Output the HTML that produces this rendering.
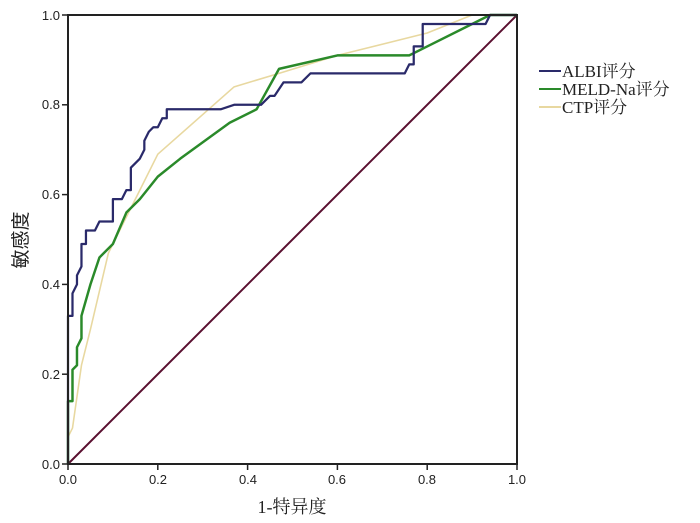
<!DOCTYPE html>
<html><head><meta charset="utf-8"><style>
html,body{margin:0;padding:0;background:#fff;width:700px;height:523px;overflow:hidden}
text{font-family:"Liberation Sans","Noto Sans CJK SC",sans-serif;fill:#222}
text.s{font-family:"Liberation Serif","Noto Serif CJK SC",serif}
</style></head><body>
<svg width="700" height="523" xmlns="http://www.w3.org/2000/svg">
<g transform="translate(68,464) scale(449,-449)" fill="none" stroke-linejoin="round">
<polyline stroke="#5a1030" stroke-width="0.0045" points="0,0 1,1"/>
<polyline stroke="#e8d8a0" stroke-width="0.0035" points="0,0 0,0.06 0.01,0.08 0.03,0.22 0.05,0.3 0.09,0.47 0.15,0.59 0.2,0.69 0.37,0.84 0.47,0.87 0.6,0.91 0.8,0.96 0.9,1 1,1"/>
<polyline stroke="#2a8a2a" stroke-width="0.0055" points="0,0 0,0.14 0.01,0.14 0.01,0.21 0.02,0.22 0.02,0.26 0.03,0.28 0.03,0.33 0.05,0.40 0.07,0.46 0.1,0.49 0.13,0.56 0.16,0.59 0.2,0.64 0.25,0.68 0.36,0.76 0.42,0.79 0.47,0.88 0.6,0.91 0.76,0.91 0.8,0.93 0.9,0.98 0.94,1 1,1"/>
<polyline stroke="#2a2a6a" stroke-width="0.005" points="0,0 0,0.33 0.01,0.33 0.01,0.38 0.02,0.40 0.02,0.42 0.03,0.44 0.03,0.49 0.04,0.49 0.04,0.52 0.06,0.52 0.07,0.54 0.1,0.54 0.1,0.59 0.12,0.59 0.13,0.61 0.14,0.61 0.14,0.66 0.16,0.68 0.17,0.70 0.17,0.72 0.18,0.74 0.19,0.75 0.2,0.75 0.21,0.77 0.22,0.77 0.22,0.79 0.34,0.79 0.37,0.80 0.43,0.80 0.45,0.82 0.46,0.82 0.48,0.85 0.52,0.85 0.54,0.87 0.75,0.87 0.76,0.89 0.77,0.89 0.77,0.93 0.79,0.93 0.79,0.98 0.93,0.98 0.94,1 1,1"/>
</g>
<rect x="68" y="15" width="449" height="449" fill="none" stroke="#222" stroke-width="2"/>
<g stroke="#222" stroke-width="1.5">
<line x1="62" y1="15" x2="68" y2="15"/><line x1="62" y1="104.8" x2="68" y2="104.8"/><line x1="62" y1="194.6" x2="68" y2="194.6"/><line x1="62" y1="284.4" x2="68" y2="284.4"/><line x1="62" y1="374.2" x2="68" y2="374.2"/><line x1="62" y1="464" x2="68" y2="464"/>
<line x1="68" y1="464" x2="68" y2="470"/><line x1="157.8" y1="464" x2="157.8" y2="470"/><line x1="247.6" y1="464" x2="247.6" y2="470"/><line x1="337.4" y1="464" x2="337.4" y2="470"/><line x1="427.2" y1="464" x2="427.2" y2="470"/><line x1="517" y1="464" x2="517" y2="470"/>
</g>
<g font-size="13" text-anchor="end">
<text x="60" y="20">1.0</text><text x="60" y="109">0.8</text><text x="60" y="199">0.6</text><text x="60" y="289">0.4</text><text x="60" y="379">0.2</text><text x="60" y="469">0.0</text>
</g>
<g font-size="13" text-anchor="middle">
<text x="68" y="484">0.0</text><text x="158" y="484">0.2</text><text x="248" y="484">0.4</text><text x="337" y="484">0.6</text><text x="427" y="484">0.8</text><text x="517" y="484">1.0</text>
</g>
<text class="s" x="292" y="513" font-size="18" text-anchor="middle">1-特异度</text>
<text transform="translate(27,240) rotate(-90)" font-size="19" text-anchor="middle">敏感度</text>
<g font-size="17">
<line x1="539" y1="71" x2="561" y2="71" stroke="#2a2a6a" stroke-width="2"/><text class="s" x="562" y="77">ALBI评分</text>
<line x1="539" y1="89" x2="561" y2="89" stroke="#2a8a2a" stroke-width="2"/><text class="s" x="562" y="95">MELD-Na评分</text>
<line x1="539" y1="107" x2="561" y2="107" stroke="#e8d8a0" stroke-width="2"/><text class="s" x="562" y="113">CTP评分</text>
</g>
</svg>
</body></html>
